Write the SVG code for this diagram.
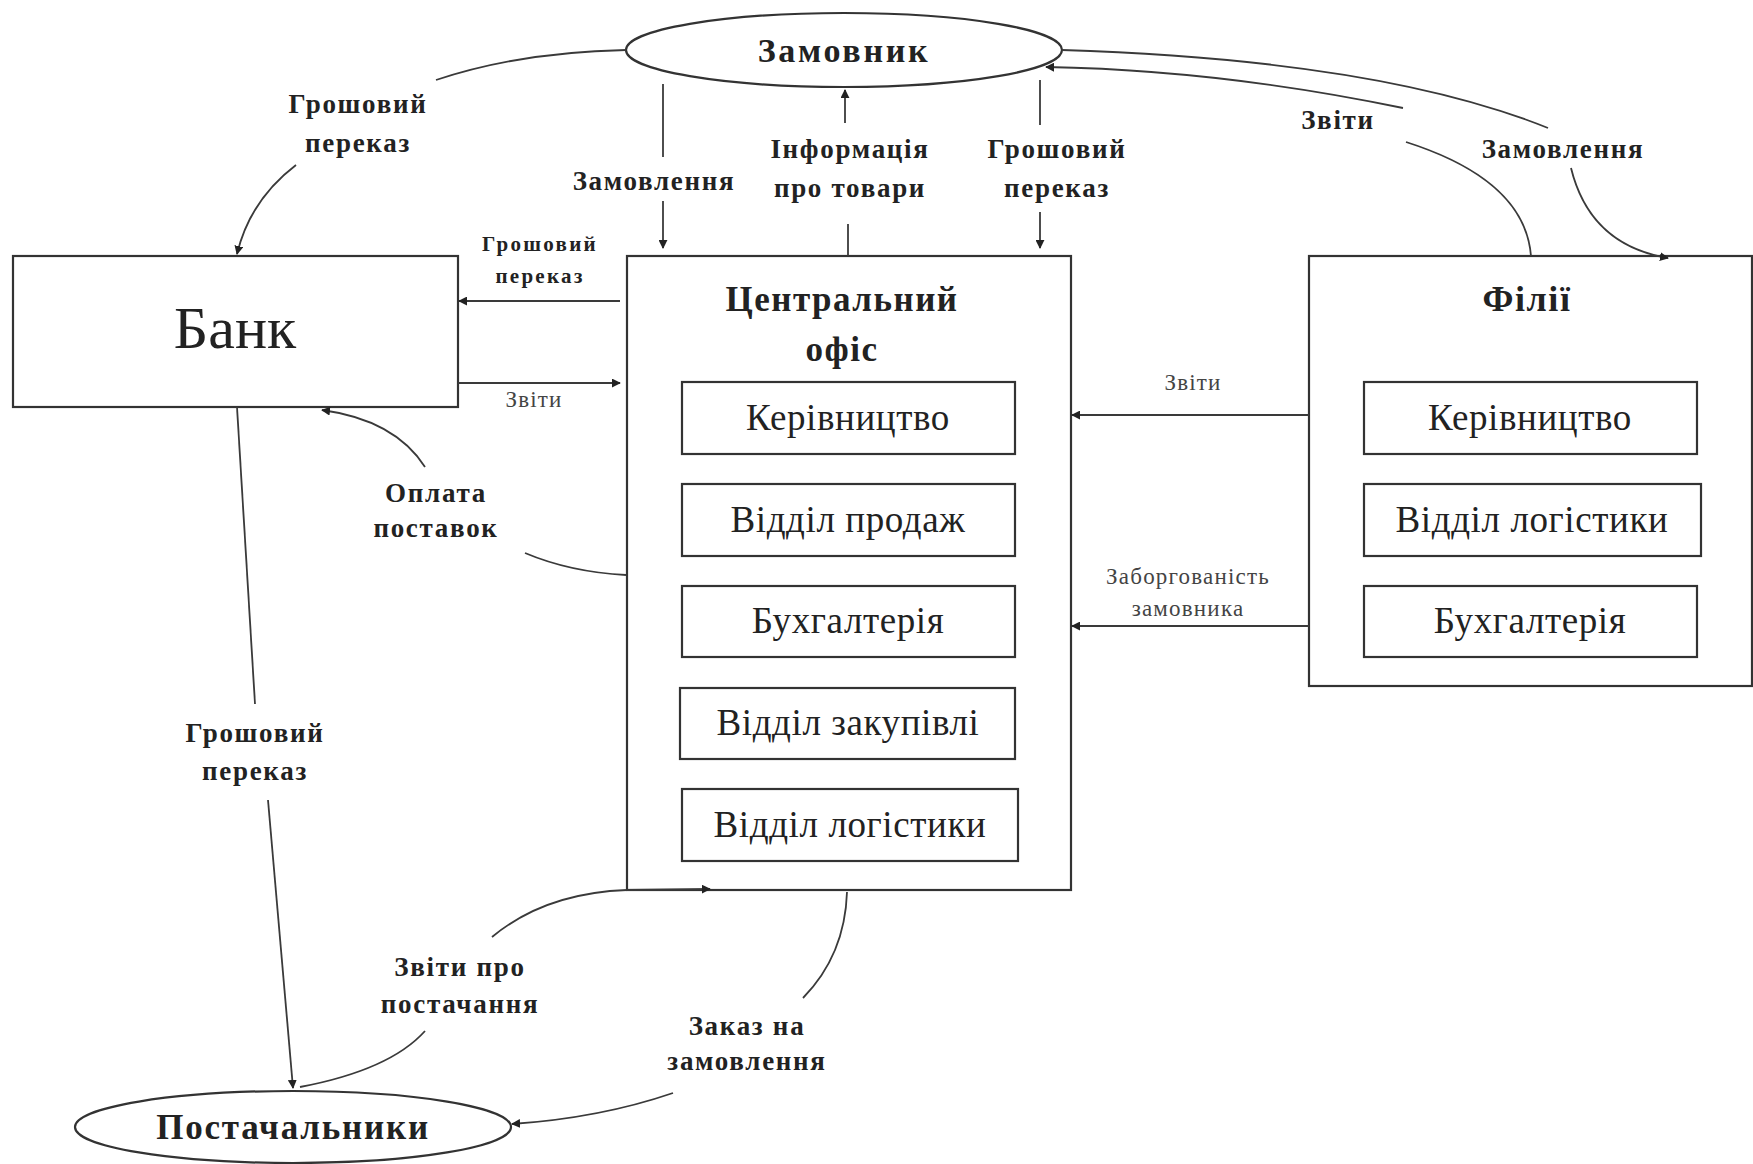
<svg xmlns="http://www.w3.org/2000/svg" width="1753" height="1164" viewBox="0 0 1753 1164">
<defs>
<style>
.box{fill:#fff;stroke:#333;stroke-width:2.2}
.sub{fill:#fff;stroke:#333;stroke-width:2.2}
.con{fill:none;stroke:#3a3a3a;stroke-width:1.8}
.arr{marker-end:url(#ah)}
.t{font-family:"Liberation Serif",serif;fill:#222;text-anchor:middle}
.b{font-weight:bold}
.lbl{font-family:"Liberation Serif",serif;font-weight:bold;font-size:27px;fill:#222;text-anchor:middle;letter-spacing:1.7px}
.sm{font-size:21px;letter-spacing:2.3px}
.thin{font-family:"Liberation Serif",serif;font-size:23px;fill:#444;text-anchor:middle;letter-spacing:1.2px}
.subt{font-family:"Liberation Serif",serif;font-size:37px;fill:#222;text-anchor:middle;letter-spacing:0.6px}
</style>
<marker id="ah" viewBox="0 0 10 10" refX="9" refY="5" markerWidth="9" markerHeight="9" markerUnits="userSpaceOnUse" orient="auto">
<path d="M0,0 L10,5 L0,10 z" fill="#222"/>
</marker>
</defs>
<rect width="1753" height="1164" fill="#fff"/>

<g id="zamovnyk">
<ellipse class="box" cx="844" cy="50" rx="218" ry="37"/>
<text class="t b" x="844" y="62" font-size="34" letter-spacing="2.7">Замовник</text>
</g>

<g id="bank">
<rect class="box" x="13" y="256" width="445" height="151"/>
<text class="t" x="235" y="348" font-size="60">Банк</text>
</g>

<g id="central-office">
<rect class="box" x="627" y="256" width="444" height="634"/>
<text class="t b" x="842" y="311" font-size="35" letter-spacing="1.5">Центральний</text>
<text class="t b" x="842" y="361" font-size="35" letter-spacing="1.5">офіс</text>
</g>
<g id="co-management">
<rect class="sub" x="682" y="382" width="333" height="72"/>
<text class="subt" x="848" y="430">Керівництво</text>
</g>
<g id="co-sales">
<rect class="sub" x="682" y="484" width="333" height="72"/>
<text class="subt" x="848" y="532">Відділ продаж</text>
</g>
<g id="co-accounting">
<rect class="sub" x="682" y="586" width="333" height="71"/>
<text class="subt" x="848" y="633">Бухгалтерія</text>
</g>
<g id="co-purchasing">
<rect class="sub" x="680" y="688" width="335" height="71"/>
<text class="subt" x="848" y="735">Відділ закупівлі</text>
</g>
<g id="co-logistics">
<rect class="sub" x="682" y="789" width="336" height="72"/>
<text class="subt" x="850" y="837">Відділ логістики</text>
</g>

<g id="branches">
<rect class="box" x="1309" y="256" width="443" height="430"/>
<text class="t b" x="1527" y="311" font-size="36" letter-spacing="1.6">Філії</text>
</g>
<g id="br-management">
<rect class="sub" x="1364" y="382" width="333" height="72"/>
<text class="subt" x="1530" y="430">Керівництво</text>
</g>
<g id="br-logistics">
<rect class="sub" x="1364" y="484" width="337" height="72"/>
<text class="subt" x="1532" y="532">Відділ логістики</text>
</g>
<g id="br-accounting">
<rect class="sub" x="1364" y="586" width="333" height="71"/>
<text class="subt" x="1530" y="633">Бухгалтерія</text>
</g>

<g id="suppliers">
<ellipse class="box" cx="293" cy="1127" rx="218" ry="36"/>
<text class="t b" x="293" y="1139" font-size="35" letter-spacing="1.8">Постачальники</text>
</g>

<g id="connectors">
<path class="con" d="M626,50 Q520,52 436,80"/>
<path class="con arr" d="M296,165 Q250,200 237,254"/>
<path class="con" d="M663,84 L663,157"/>
<path class="con arr" d="M663,201 L663,248"/>
<path class="con" d="M848,256 L848,224"/>
<path class="con arr" d="M845,123 L845,90"/>
<path class="con" d="M1040,80 L1040,125"/>
<path class="con arr" d="M1040,212 L1040,248"/>
<path class="con" d="M1531,256 Q1525,180 1406,142"/>
<path class="con arr" d="M1403,108 Q1220,70 1046,67"/>
<path class="con" d="M1062,50 Q1380,60 1548,128"/>
<path class="con arr" d="M1571,168 Q1590,245 1668,258"/>
<path class="con arr" d="M620,301 L459,301"/>
<path class="con arr" d="M458,383 L620,383"/>
<path class="con" d="M626,575 Q570,572 525,553"/>
<path class="con arr" d="M425,467 Q395,420 322,410"/>
<path class="con" d="M237,407 L255,704"/>
<path class="con arr" d="M268,800 L293,1088"/>
<path class="con" d="M300,1087 Q390,1070 425,1031"/>
<path class="con arr" d="M492,937 Q545,893 627,890 L710,889"/>
<path class="con" d="M847,892 Q845,955 803,998"/>
<path class="con arr" d="M673,1093 Q600,1118 512,1124"/>
<path class="con arr" d="M1309,415 L1072,415"/>
<path class="con arr" d="M1309,626 L1072,626"/>
</g>

<g id="labels">
<text class="lbl" x="358" y="113">Грошовий</text>
<text class="lbl" x="358" y="152">переказ</text>
<text class="lbl" x="654" y="190">Замовлення</text>
<text class="lbl" x="850" y="158">Інформація</text>
<text class="lbl" x="850" y="197">про товари</text>
<text class="lbl" x="1057" y="158">Грошовий</text>
<text class="lbl" x="1057" y="197">переказ</text>
<text class="lbl" x="1338" y="129">Звіти</text>
<text class="lbl" x="1563" y="158">Замовлення</text>
<text class="lbl sm" x="540" y="251">Грошовий</text>
<text class="lbl sm" x="540" y="283">переказ</text>
<text class="thin" x="534" y="407">Звіти</text>
<text class="lbl" x="436" y="502">Оплата</text>
<text class="lbl" x="436" y="537">поставок</text>
<text class="thin" x="1193" y="390">Звіти</text>
<text class="thin" x="1188" y="584">Заборгованість</text>
<text class="thin" x="1188" y="616">замовника</text>
<text class="lbl" x="255" y="742">Грошовий</text>
<text class="lbl" x="255" y="780">переказ</text>
<text class="lbl" x="460" y="976">Звіти про</text>
<text class="lbl" x="460" y="1013">постачання</text>
<text class="lbl" x="747" y="1035">Заказ на</text>
<text class="lbl" x="747" y="1070">замовлення</text>
</g>
</svg>
